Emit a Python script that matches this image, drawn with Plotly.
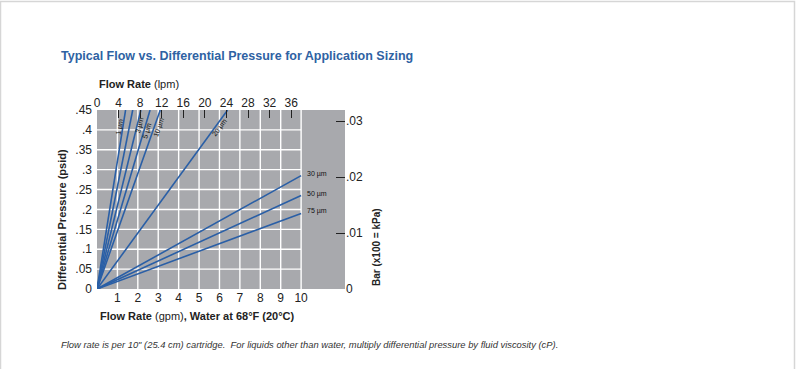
import math
import plotly.graph_objects as go

# ---- data ----
# steep group: end points (flow gpm, dp psid) reaching the top of the chart
steep_labels = ["1 µm", "", "3 µm", "5 µm", "10 µm", "20 µm"]
steep_flow_end = [1.40, 1.75, 2.15, 2.60, 3.10, 6.40]
steep_dp_end = [0.45, 0.45, 0.45, 0.45, 0.45, 0.45]

# shallow group: end points at 10 gpm
shallow_labels = ["30 µm", "50 µm", "75 µm"]
shallow_flow_end = [10, 10, 10]
shallow_dp_end = [0.285, 0.235, 0.19]

gpm_ticks = [1, 2, 3, 4, 5, 6, 7, 8, 9, 10]
lpm_ticks = [0, 4, 8, 12, 16, 20, 24, 28, 32, 36]
psid_ticks = [0, 0.05, 0.1, 0.15, 0.2, 0.25, 0.3, 0.35, 0.4, 0.45]
psid_labels = ["0", ".05", ".1", ".15", ".2", ".25", ".3", ".35", ".4", ".45"]
bar_ticks = [0, 0.01, 0.02, 0.03]
bar_labels = ["0", ".01", ".02", ".03"]

# label placement along each steep line (fraction of length, pixel shift)
steep_label_frac = [0.905, 0, 0.915, 0.885, 0.905, 0.90]
steep_label_shift = [-3, 0, 3, 3, 5, 5]

# ---- layout geometry ----
W, H = 797, 369
L, R, T, B = 97, 345, 110, 289
X_MAX = 12.15
Y_MAX = 0.45
BAR_MAX = 0.03197
GPM_TO_LPM = 3.785


def px(x):
    return (x - L) / (R - L)


def py(y):
    return (B - y) / (B - T)


LINE = "#2a5fa6"
FONT = "Liberation Sans, Arial, sans-serif"

fig = go.Figure()

for xe, ye in zip(steep_flow_end + shallow_flow_end, steep_dp_end + shallow_dp_end):
    fig.add_trace(go.Scatter(x=[0, xe], y=[0, ye], mode="lines",
                             line=dict(color=LINE, width=1.6),
                             hoverinfo="skip", showlegend=False, cliponaxis=True))

# invisible traces to activate secondary axes
fig.add_trace(go.Scatter(x=[0], y=[0], xaxis="x2", yaxis="y", mode="markers",
                         marker=dict(opacity=0), showlegend=False, hoverinfo="skip"))
fig.add_trace(go.Scatter(x=[0], y=[0], xaxis="x", yaxis="y2", mode="markers",
                         marker=dict(opacity=0), showlegend=False, hoverinfo="skip"))

shapes = []
# grid (only up to 10 gpm)
for g in gpm_ticks:
    shapes.append(dict(type="line", xref="x", yref="y", x0=g, x1=g, y0=0, y1=Y_MAX,
                       line=dict(color="white", width=1.4), layer="below"))
for p in psid_ticks[1:-1]:
    shapes.append(dict(type="line", xref="x", yref="y", x0=0, x1=max(gpm_ticks), y0=p, y1=p,
                       line=dict(color="white", width=1.4), layer="below"))
# outer frame of the picture
shapes.append(dict(type="rect", xref="paper", yref="paper",
                   x0=px(0.5), x1=px(W - 2.5), y0=py(1.5), y1=py(H + 5),
                   line=dict(color="#d6d6d6", width=1.5), fillcolor="rgba(0,0,0,0)"))

annotations = []
# line labels: steep
for lab, xe, ye, fr, sh in zip(steep_labels, steep_flow_end, steep_dp_end,
                               steep_label_frac, steep_label_shift):
    if not lab:
        continue
    dxp = xe * (R - L) / X_MAX
    dyp = ye * (B - T) / Y_MAX
    ang = math.degrees(math.atan2(dyp, dxp))
    annotations.append(dict(x=xe * fr, y=ye * fr, xref="x", yref="y", text=lab,
                            showarrow=False, textangle=-ang,
                            font=dict(family=FONT, size=7, color="#111"),
                            xshift=sh, yshift=0))
for lab, xe, ye in zip(shallow_labels, shallow_flow_end, shallow_dp_end):
    annotations.append(dict(x=xe, y=ye, xref="x", yref="y", text=lab, showarrow=False,
                            xanchor="left", font=dict(family=FONT, size=7, color="#111"),
                            xshift=4, yshift=2))

annotations += [
    dict(x=px(59), y=py(56), xref="paper", yref="paper", xanchor="left", yanchor="middle",
         text="<b>Typical Flow vs. Differential Pressure for Application Sizing</b>",
         showarrow=False, font=dict(family=FONT, size=12.5, color="#2e62a3")),
    dict(x=px(97), y=py(84), xref="paper", yref="paper", xanchor="left", yanchor="middle",
         text="<b>Flow Rate</b> (lpm)", showarrow=False,
         font=dict(family=FONT, size=11, color="#222")),
    dict(x=px(98), y=py(316), xref="paper", yref="paper", xanchor="left", yanchor="middle",
         text="<b>Flow Rate</b> (gpm)<b>, Water at 68°F (20°C)</b>", showarrow=False,
         font=dict(family=FONT, size=11, color="#222")),
    dict(x=px(62), y=py(220), xref="paper", yref="paper", xanchor="center", yanchor="middle",
         text="<b>Differential Pressure (psid)</b>", textangle=-90, showarrow=False,
         font=dict(family=FONT, size=11, color="#222")),
    dict(x=px(376), y=py(247), xref="paper", yref="paper", xanchor="center", yanchor="middle",
         text="<b>Bar (x100 = kPa)</b>", textangle=-90, showarrow=False,
         font=dict(family=FONT, size=10, color="#222")),
    dict(x=px(59), y=py(344), xref="paper", yref="paper", xanchor="left", yanchor="middle",
         text="<i>Flow rate is per 10\" (25.4 cm) cartridge.  For liquids other than water, "
              "multiply differential pressure by fluid viscosity (cP).</i>",
         showarrow=False, font=dict(family=FONT, size=9.4, color="#333")),
]

tickfont = dict(family=FONT, size=12, color="#222")

fig.update_layout(
    width=W, height=H,
    margin=dict(l=L, r=W - R, t=T, b=H - B, pad=0),
    paper_bgcolor="white",
    plot_bgcolor="#a8a9ad",
    showlegend=False,
    xaxis=dict(range=[0, X_MAX], tickvals=gpm_ticks, ticktext=[str(g) for g in gpm_ticks],
               showgrid=False, zeroline=False, showline=False, ticks="", tickfont=tickfont,
               fixedrange=True),
    xaxis2=dict(range=[0, X_MAX * GPM_TO_LPM], overlaying="x", side="top", anchor="y",
                tickvals=lpm_ticks, ticktext=[str(v) for v in lpm_ticks],
                ticks="inside", ticklen=8, tickwidth=1.3, tickcolor="#222",
                showgrid=False, zeroline=False, showline=False, tickfont=tickfont),
    yaxis=dict(range=[0, Y_MAX], tickvals=psid_ticks, ticktext=psid_labels,
               showgrid=False, zeroline=False, showline=False, ticks="", tickfont=tickfont,
               ticklabelstandoff=4),
    yaxis2=dict(range=[0, BAR_MAX], overlaying="y", side="right", anchor="x",
                tickvals=bar_ticks, ticktext=bar_labels,
                ticks="inside", ticklen=9, tickwidth=1.3, tickcolor="#222",
                showgrid=False, zeroline=False, showline=False, tickfont=tickfont),
    shapes=shapes,
    annotations=annotations,
)

fig.write_html("out.html", config={"displayModeBar": False},
               post_script="document.body.style.margin='0';document.body.style.overflow='hidden';")
